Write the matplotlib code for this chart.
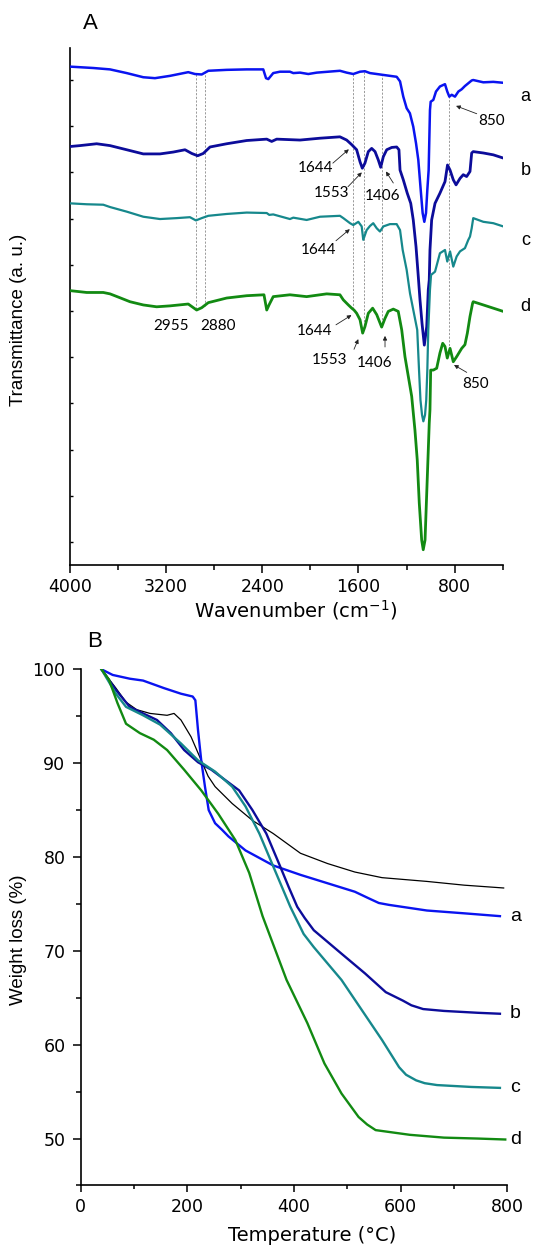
import numpy as np
import matplotlib
matplotlib.use('Agg')
import matplotlib.pyplot as plt
from matplotlib.ticker import MultipleLocator, FixedLocator

# ---------------- Panel A: FTIR spectra ----------------
wn_a = [4000,3806,3667,3528,3390,3293,3168,3016,2960,2904,2849,2696,2530,2392,2369,2350,2309,2253,2170,2142,
        2086,2017,1947,1754,1698,1643,1587,1546,1504,1448,1393,1282,1254,1227,1199,1172,1144,1121,1102,1082,
        1066,1052,1038,1027,1016,1005,999,977,955,922,880,861,844,824,797,769,741,714,686,658,645,561,478,395]
t_a = [102.9,102.6,102.3,101.5,100.6,100.4,100.9,101.7,101.3,101.2,102.0,102.2,102.3,102.3,100.4,100.2,101.5,101.8,101.8,101.5,
       101.6,101.3,101.6,102.0,101.6,101.3,101.8,101.9,101.5,101.3,101.1,100.7,99.7,96.4,93.9,92.8,89.9,86.3,82.7,76.2,
       71.2,69.3,71.2,76.2,80.5,93.5,95.3,95.7,97.5,98.6,99.1,97.5,96.4,96.8,96.4,97.5,98.0,98.7,99.3,99.9,100.0,99.5,99.6,99.4]

wn_b = [4000,3917,3778,3667,3528,3390,3251,3141,3043,2987,2938,2891,2835,2696,2530,2363,2322,2280,2086,1920,
        1754,1698,1656,1615,1587,1568,1546,1518,1490,1462,1435,1415,1393,1365,1323,1282,1263,1254,1227,1194,
        1165,1144,1121,1102,1088,1071,1052,1032,1019,1011,1005,991,963,922,880,859,838,811,788,755,
        728,700,672,658,645,561,478,395]
t_b = [85.6,85.8,86.2,85.8,84.9,84.0,84.0,84.4,84.9,84.1,83.6,84.1,85.5,86.2,86.9,87.2,86.7,87.2,87.0,87.4,
       87.7,87.0,86.0,84.9,82.3,80.9,82.0,84.5,85.2,84.5,82.7,81.1,83.4,84.9,85.4,85.5,84.9,80.5,78.4,75.5,
       73.3,69.7,63.9,57.4,52.4,47.3,42.6,46.6,54.6,56.7,63.2,69.7,73.3,75.5,78.0,81.6,80.5,78.4,77.3,78.7,
       79.5,79.1,80.2,84.2,84.5,84.2,83.8,83.1]

wn_c = [4000,3861,3723,3667,3528,3390,3251,3112,3002,2952,2904,2849,2696,2530,2363,2342,2309,2170,2142,2031,
        1920,1754,1726,1670,1643,1601,1573,1560,1532,1504,1477,1448,1421,1393,1338,1282,1254,1232,1199,1171,
        1111,1096,1084,1071,1060,1046,1036,1027,1019,1005,996,963,922,880,861,838,811,783,755,714,
        686,672,658,645,561,478,395]
t_c = [73.3,73.1,73.0,72.5,71.5,70.4,69.9,70.1,70.3,69.6,70.1,70.6,71.0,71.3,71.2,70.8,70.9,69.9,70.2,69.7,
       70.4,70.6,70.1,69.0,68.6,69.3,68.3,65.4,67.5,68.4,69.0,67.9,67.2,68.3,68.8,68.8,67.5,63.2,58.9,53.8,
       45.9,37.2,30.7,27.5,26.1,27.5,30.7,37.2,45.9,54.6,57.8,58.5,62.5,63.2,60.7,62.9,59.6,61.8,62.9,63.6,
       65.4,66.1,67.9,70.1,69.3,69.0,68.3]

wn_d = [4000,3861,3723,3667,3598,3501,3390,3279,3168,3016,2946,2904,2849,2696,2530,2386,2363,2344,2309,2170,
        2031,1864,1754,1726,1684,1656,1637,1615,1587,1565,1546,1518,1482,1448,1407,1379,1352,1310,1269,1240,
        1213,1185,1157,1130,1111,1094,1074,1061,1046,1032,1019,1011,1005,999,977,949,922,899,880,861,
        838,811,783,741,714,694,672,650,645,561,478,395]
t_d = [54.4,54.0,54.0,53.7,53.0,52.0,51.3,50.9,51.1,51.5,50.2,50.7,51.8,52.8,53.3,53.5,50.2,51.3,53.1,53.5,
       53.1,53.7,53.5,52.4,51.3,50.6,50.2,49.5,48.1,45.2,46.6,49.5,50.6,49.2,46.5,48.4,49.9,50.4,49.9,45.9,
       40.1,35.8,31.5,24.2,17.8,8.4,0.4,-1.7,0.4,10.5,19.9,25.7,28.6,37.2,37.2,37.6,40.9,43.0,42.3,39.8,
       41.9,39.0,40.1,41.9,42.7,45.2,48.8,51.7,52.0,51.3,50.6,49.9]

ir_marks = [2955, 2880, 1644, 1553, 1406, 850]
xticks_A = [4000, 3200, 2400, 1600, 800]
xminor_A = [3600, 2800, 2000, 1200, 400]

# ---------------- Panel B: TGA ----------------
temp_ref = [39,66,85,105,130,162,175,188,207,226,239,252,284,322,361,412,463,514,565,649,719,793]
w_ref = [100,98.0,96.5,95.7,95.3,95.1,95.3,94.6,92.8,90.3,88.6,87.5,85.7,83.9,82.5,80.4,79.3,78.4,77.8,77.4,77.0,76.7]

temp_a = [39,60,92,117,156,188,210,215,220,226,233,240,252,265,277,309,361,412,463,514,540,559,578,649,719,786]
w_a = [100,99.4,99.0,98.8,98.0,97.4,97.1,96.7,93.5,90.3,87.5,85.0,83.6,82.9,82.2,80.7,79.1,78.1,77.2,76.3,75.6,75.1,74.9,74.3,74.0,73.7]

temp_b = [39,66,92,117,143,169,194,220,245,271,297,322,348,374,390,406,420,437,489,533,572,604,620,642,681,745,786]
w_b = [100,97.8,96.0,95.3,94.6,93.2,91.4,90.1,89.3,88.2,87.1,85.0,82.5,79.0,76.8,74.7,73.5,72.2,69.7,67.6,65.6,64.7,64.2,63.8,63.6,63.4,63.3]

temp_c = [39,66,85,117,149,188,220,252,284,309,335,361,393,418,437,489,527,565,597,610,629,645,668,732,786]
w_c = [100,97.4,96.0,95.1,94.1,92.1,90.3,89.1,87.5,85.4,82.5,79.0,74.7,71.8,70.4,66.9,63.7,60.5,57.6,56.8,56.2,55.9,55.7,55.5,55.4]

temp_d = [39,53,69,85,111,137,162,194,226,258,290,316,341,386,425,457,489,521,537,553,617,681,745,796]
w_d = [100,98.9,96.4,94.2,93.2,92.5,91.4,89.3,87.1,84.6,81.8,78.3,73.7,66.9,62.3,58.0,54.8,52.3,51.5,50.9,50.4,50.1,50.0,49.9]

labels = ['a', 'b', 'c', 'd']
col_a = '#0A14F0'
col_b = '#0C0C9A'
col_c = '#16888C'
col_d = '#128A12'

plt.rcParams['font.family'] = ['DejaVu Sans']

fig = plt.figure(figsize=(5.35, 12.45), dpi=100)
axA = fig.add_axes([0.1308, 0.5462, 0.9396 - 0.1308, 0.9617 - 0.5462])
axB = fig.add_axes([0.1508, 0.0478, 0.9484 - 0.1508, 0.4624 - 0.0478])

for ax in (axA, axB):
    ax.spines['top'].set_visible(False)
    ax.spines['right'].set_visible(False)
    for s in ('left', 'bottom'):
        ax.spines[s].set_linewidth(1.2)

# ---- Panel A drawing ----
series_A = [(wn_a, t_a, col_a, 1.8), (wn_b, t_b, col_b, 2.0), (wn_c, t_c, col_c, 1.6), (wn_d, t_d, col_d, 2.0)]

def interp_series(wn, t, x):
    return float(np.interp(x, wn[::-1], t[::-1]))

for m in ir_marks:
    ytop = interp_series(wn_a, t_a, m)
    ybot = interp_series(wn_d, t_d, m)
    axA.vlines(m, ybot, ytop, colors='#9a9a9a', linestyles=(0, (2.2, 1.6)), linewidth=0.7, zorder=1)

for wn, t, c, lw in series_A:
    axA.plot(wn, t, color=c, lw=lw, zorder=3, solid_joinstyle='round')

axA.set_xlim(4000, 400)
axA.set_ylim(-5, 107)
axA.xaxis.set_major_locator(FixedLocator(xticks_A))
axA.xaxis.set_minor_locator(FixedLocator(xminor_A))
axA.yaxis.set_major_locator(MultipleLocator(10))
axA.tick_params(axis='x', which='major', direction='out', length=5.5, width=1.1, labelsize=12.5, pad=4)
axA.tick_params(axis='x', which='minor', direction='out', length=3.5, width=1.1)
axA.tick_params(axis='y', which='major', direction='in', length=2.5, width=1.0, labelleft=False)

for lab, y in zip(labels, [96.4, 80.5, 65.2, 50.9]):
    axA.text(209, y, lab, fontsize=13, family='Liberation Sans', ha='center', va='center', clip_on=False)

ann_font = dict(fontsize=11, family='Lato', ha='center', va='center')
ann_items = [
    ('850', (491, 91.2), (616, 92.7), (788, 94.4)),
    ('1644', (1956, 81.0), (1813, 82.0), (1680, 85.0)),
    ('1553', (1821, 75.5), (1687, 76.9), (1572, 80.0)),
    ('1406', (1396, 74.8), (1310, 77.7), (1371, 80.2)),
    ('1644', (1928, 63.2), (1787, 65.2), (1672, 67.7)),
    ('1644', (1966, 45.7), (1787, 47.0), (1658, 49.1)),
    ('1553', (1837, 39.4), (1637, 41.7), (1601, 43.9)),
    ('1406', (1465, 38.7), (1379, 42.2), (1379, 44.6)),
    ('850', (626, 34.2), (699, 36.7), (805, 38.3)),
]
for txt, tpos, tail, head in ann_items:
    axA.text(tpos[0], tpos[1], txt, **ann_font)
    axA.annotate('', xy=head, xytext=tail,
                 arrowprops=dict(arrowstyle='-|>', color='#222222', lw=0.6,
                                 mutation_scale=6, shrinkA=0, shrinkB=0))
axA.text(3155, 46.8, '2955', **ann_font)
axA.text(2769, 46.8, '2880', **ann_font)

# ---- Panel B drawing ----
axB.plot(temp_ref, w_ref, color='black', lw=0.9, zorder=3, solid_joinstyle='round')
for tt, ww, c in [(temp_a, w_a, col_a), (temp_b, w_b, col_b), (temp_c, w_c, col_c), (temp_d, w_d, col_d)]:
    axB.plot(tt, ww, color=c, lw=1.7, zorder=4, solid_joinstyle='round')

axB.set_xlim(0, 800)
axB.set_ylim(45, 100)
axB.xaxis.set_major_locator(MultipleLocator(200))
axB.xaxis.set_minor_locator(MultipleLocator(100))
axB.yaxis.set_major_locator(MultipleLocator(10))
axB.yaxis.set_minor_locator(MultipleLocator(5))
axB.tick_params(axis='x', which='major', direction='out', length=5, width=1.1, labelsize=12.5, pad=4)
axB.tick_params(axis='x', which='minor', direction='out', length=3, width=1.1)
axB.tick_params(axis='y', which='major', direction='out', length=6, width=1.1, labelsize=12.5, pad=5)
axB.tick_params(axis='y', which='minor', direction='out', length=3.5, width=1.1)

for lab, y in zip(labels, [w_a[-1], w_b[-1], w_c[-1], w_d[-1]]):
    axB.text(815, y, lab, fontsize=14, family='Liberation Sans', ha='center', va='center', clip_on=False)

# ---- figure texts ----
fig.text(0.169, 0.9808, 'A', fontsize=16, family='Liberation Sans', ha='center', va='center')
fig.text(0.1766, 0.4851, 'B', fontsize=16, family='Liberation Sans', ha='center', va='center')
fig.text(0.553, 0.5100, 'Wavenumber (cm$^{-1}$)', fontsize=14, ha='center', va='center')
fig.text(0.583, 0.0080, 'Temperature (°C)', fontsize=14, ha='center', va='center')
fig.text(0.035, 0.743, 'Transmittance (a. u.)', fontsize=13.5, family='Liberation Sans',
         rotation=90, ha='center', va='center')
fig.text(0.035, 0.245, 'Weight loss (%)', fontsize=13.5, family='Liberation Sans',
         rotation=90, ha='center', va='center')

fig.savefig('out.png', dpi=100)
